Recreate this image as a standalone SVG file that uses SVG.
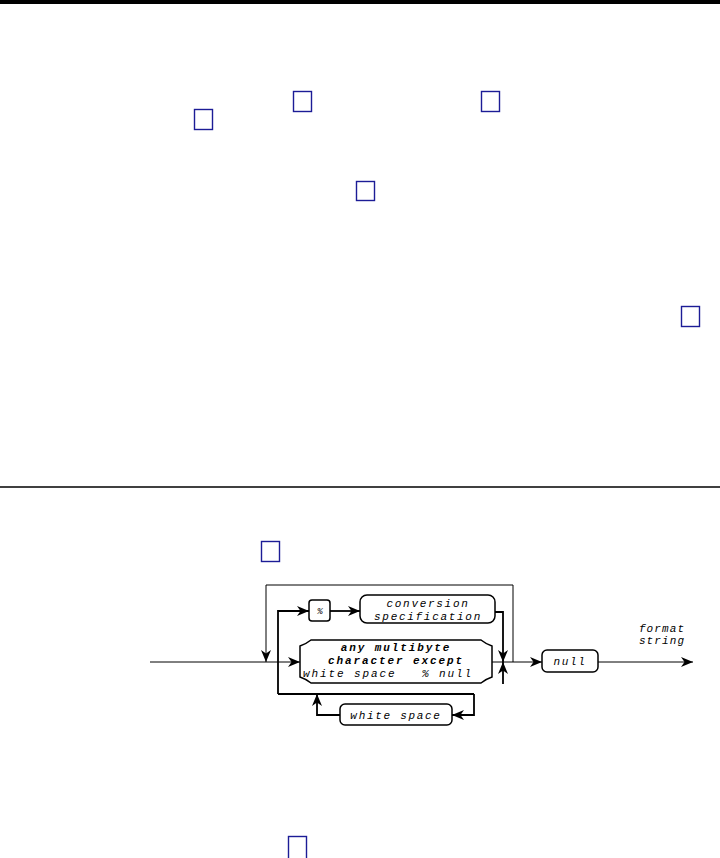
<svg xmlns="http://www.w3.org/2000/svg" width="720" height="858" viewBox="0 0 720 858">
<style>
.ref{fill:none;stroke:#1c1c96;stroke-width:1.4}
.box{fill:#fff;stroke:#000;stroke-width:1.5}
.ln{fill:none;stroke:#000;stroke-width:1.8}
.thin{fill:none;stroke:#000;stroke-width:1}
.t{font-family:"Liberation Mono",monospace;font-style:italic;font-size:11px;letter-spacing:1.7px;fill:#000;text-anchor:middle}
.b{font-weight:bold}
</style>
<defs>
<marker id="ah" viewBox="0 0 12 10" refX="12" refY="5" markerWidth="12" markerHeight="10" markerUnits="userSpaceOnUse" orient="auto">
<path d="M0,0 L12,5 L0,10 L3.5,5 z" fill="#000"/>
</marker>
</defs>
<rect x="0" y="0" width="720" height="4" fill="#000"/>
<line x1="0" y1="487" x2="720" y2="487" stroke="#000" stroke-width="1.4"/>
<g id="refs">
<rect class="ref" x="293.5" y="91.5" width="18" height="20"/>
<rect class="ref" x="481.5" y="91.5" width="18" height="20"/>
<rect class="ref" x="194.5" y="109.5" width="18" height="20"/>
<rect class="ref" x="356.5" y="181.5" width="18" height="19"/>
<rect class="ref" x="681.5" y="306.5" width="18" height="20"/>
<rect class="ref" x="261.5" y="541.5" width="18" height="20"/>
<rect class="ref" x="288.5" y="836.5" width="18" height="24"/>
</g>
<g id="connectors">
<path class="thin" d="M150,662 H300" marker-end="url(#ah)"/>
<path class="thin" d="M513,662 V585 H266 V662" marker-end="url(#ah)"/>
<path class="ln" d="M278,694 V611 H309" marker-end="url(#ah)"/>
<path class="ln" d="M278,694 H474"/>
<path class="ln" d="M330,611 H360" marker-end="url(#ah)"/>
<path class="ln" d="M495,612 H503 V662" marker-end="url(#ah)"/>
<path class="ln" d="M503,684 V662" marker-end="url(#ah)"/>
<path class="ln" d="M474,694 V715 H452" marker-end="url(#ah)"/>
<path class="ln" d="M340,715 H317 V694" marker-end="url(#ah)"/>
<path class="thin" d="M492,662 H542" marker-end="url(#ah)"/>
<path class="thin" d="M598,662 H693" marker-end="url(#ah)"/>
</g>
<g id="pct">
<rect class="box" x="309" y="600" width="21" height="21" rx="3"/>
<text class="t" x="320" y="614" style="font-size:9px;letter-spacing:0">%</text>
</g>
<g id="conv">
<rect class="box" x="360" y="595" width="135" height="28" rx="7"/>
<text class="t" x="428" y="607">conversion</text>
<text class="t" x="428" y="620">specification</text>
</g>
<g id="anychar">
<path class="box" d="M311,640 H481 Q486,644 492,646 V677 Q486,679 481,683 H311 Q306,679 300,677 V646 Q306,644 311,640 Z"/>
<text class="t b" x="396" y="651" style="letter-spacing:1.9px">any multibyte</text>
<text class="t b" x="396" y="664" style="letter-spacing:1.9px">character except</text>
<text class="t" x="388" y="677" style="letter-spacing:1.9px" xml:space="preserve">white space   % null</text>
</g>
<g id="null">
<rect class="box" x="542" y="650" width="56" height="22" rx="5"/>
<text class="t" x="570" y="665">null</text>
</g>
<g id="ws">
<rect class="box" x="340" y="704" width="112" height="21" rx="5"/>
<text class="t" x="396" y="719">white space</text>
</g>
<g id="out">
<text class="t" x="662" y="632" style="letter-spacing:1.1px">format</text>
<text class="t" x="662" y="644" style="letter-spacing:1.1px">string</text>
</g>
</svg>
